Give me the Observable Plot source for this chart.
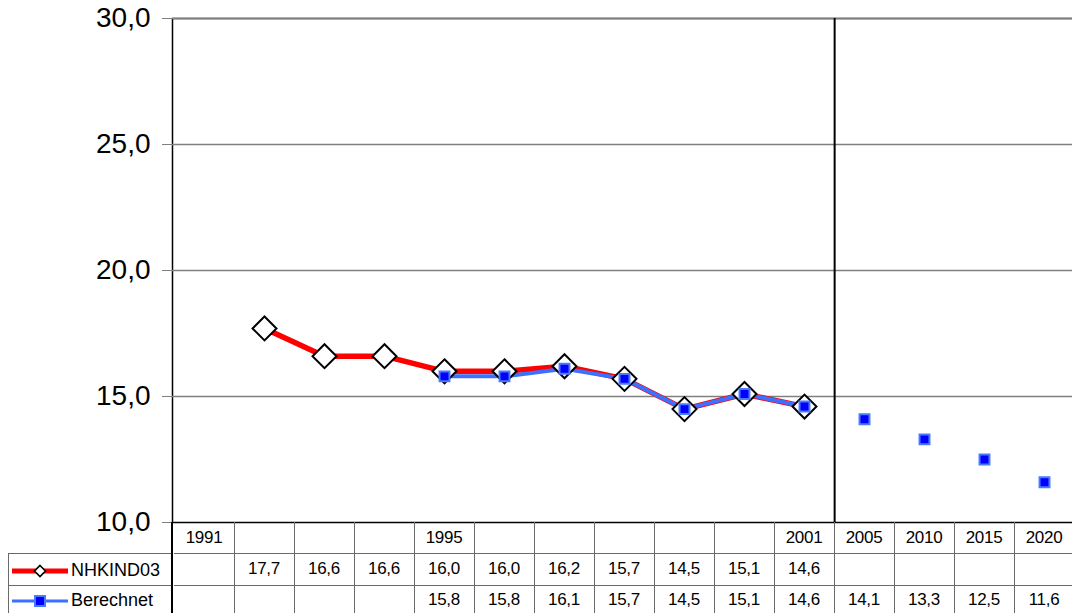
<!DOCTYPE html>
<html><head><meta charset="utf-8">
<script src="https://cdn.jsdelivr.net/npm/d3@7"></script>
<script src="https://cdn.jsdelivr.net/npm/@observablehq/plot@0.6"></script>
<style>
html,body{margin:0;padding:0;background:#fff;overflow:hidden;}
#wrap{position:relative;width:1072px;height:613px;font-family:"Liberation Sans",Arial,sans-serif;overflow:hidden;}
#wrap > svg{position:absolute;left:0;top:0;}
.cell{position:absolute;box-sizing:border-box;display:flex;align-items:center;justify-content:center;font-size:17px;color:#000;letter-spacing:-0.3px;}
.vline{position:absolute;}
.leg{position:absolute;font-size:18px;color:#000;}
</style></head><body><div id="wrap"></div>
<script>
// ---- data ----
const years = ["1991","1992","1993","1994","1995","1996","1997","1998","1999","2000","2001","2005","2010","2015","2020"];
const yearLabels = ["1991","","","","1995","","","","","","2001","2005","2010","2015","2020"];
const nhkindYears = ["1992","1993","1994","1995","1996","1997","1998","1999","2000","2001"];
const nhkindValues = [17.7,16.6,16.6,16.0,16.0,16.2,15.7,14.5,15.1,14.6];
const berechnetYears = ["1995","1996","1997","1998","1999","2000","2001","2005","2010","2015","2020"];
const berechnetValues = [15.8,15.8,16.1,15.7,14.5,15.1,14.6,14.1,13.3,12.5,11.6];
const lastObservedYear = "2001";
const yTicks = [10,15,20,25,30];
const gridTicks = [15,20,25,30];
const seriesNames = ["NHKIND03","Berechnet"];

// ---- tables built from arrays ----
const nhk = nhkindYears.map((y,i)=>({year:y, value:nhkindValues[i]}));
const ber = berechnetYears.map((y,i)=>({year:y, value:berechnetValues[i]}));
const berLine = ber.slice(0, berechnetYears.indexOf(lastObservedYear)+1);
const fmt = v => v.toFixed(1).replace(".", ",");

const W=1072, H=523, ML=172, MR=-4, MT=18, MB=1;
const bw = (W-ML-MR)/years.length;

const chart = Plot.plot({
  width:W, height:H, marginLeft:ML, marginRight:MR, marginTop:MT, marginBottom:MB,
  style:{fontFamily:'"Liberation Sans",Arial,sans-serif', background:"transparent", overflow:"visible"},
  x:{type:"band", domain:years, padding:0, axis:null, label:null},
  y:{domain:[10,30], axis:null, label:null},
  marks:[
    Plot.frame({stroke:"#000", strokeWidth:1.5}),
    Plot.gridY(gridTicks, {stroke:"#808080", strokeOpacity:1, strokeWidth:1.5}),
    Plot.ruleX([lastObservedYear], {dx:bw/2, stroke:"#000", strokeWidth:2}),
    Plot.axisY(yTicks, {anchor:"left", label:null, tickSize:10, tickPadding:12, fontSize:28, tickFormat:fmt, stroke:"#808080", fill:"#000"}),
    Plot.line(nhk, {x:"year", y:"value", stroke:"#ff0000", strokeWidth:5.5}),
    Plot.line(berLine, {x:"year", y:"value", stroke:"#3f6fff", strokeWidth:4}),
    Plot.dot(nhk, {x:"year", y:"value", symbol:"diamond2", r:10.8, fill:"#fff", stroke:"#000", strokeWidth:2}),
    Plot.dot(ber, {x:"year", y:"value", symbol:"square", r:5.6, fill:"#0000ff", stroke:"#4a7bff", strokeWidth:2})
  ]
});
const wrap = document.getElementById("wrap");
wrap.appendChild(chart);

// ---- data table under the chart ----
const xs = chart.scale("x");
const rows = [
  {top:522, h:31, labels:yearLabels},
  {top:553, h:32, labels:years.map(y=>{const i=nhkindYears.indexOf(y); return i<0?"":fmt(nhkindValues[i]);})},
  {top:585, h:30, labels:years.map(y=>{const i=berechnetYears.indexOf(y); return i<0?"":fmt(berechnetValues[i]);})}
];
const lineCol = "#6a6a6a";
rows.forEach((r,ri)=>{
  years.forEach((y,i)=>{
    const d=document.createElement("div");
    d.className="cell";
    d.style.left=xs.apply(y)+"px";
    d.style.top=r.top+"px";
    d.style.width=(xs.bandwidth+1)+"px";
    d.style.height=(r.h+1)+"px";
    d.style.borderRight="1px solid "+lineCol;
    d.style.borderBottom="1px solid "+lineCol;
    d.textContent=r.labels[i];
    wrap.appendChild(d);
  });
  if(ri>0){
    const d=document.createElement("div");
    d.className="cell";
    d.style.left="8px"; d.style.top=r.top+"px";
    d.style.width=(ML-8+1)+"px"; d.style.height=(r.h+1)+"px";
    d.style.border="1px solid "+lineCol;
    d.style.borderTop= ri===1 ? "1px solid "+lineCol : "none";
    wrap.appendChild(d);
  }
});
// axis line continuing through the table
const axl=document.createElement("div");
axl.className="vline";
axl.style.cssText="left:171px;top:522px;width:2px;height:92px;background:#000;";
wrap.appendChild(axl);

// legend keys in the table
function legendKey(top, name, kind){
  const ns="http://www.w3.org/2000/svg";
  const s=document.createElementNS(ns,"svg");
  s.setAttribute("width","60"); s.setAttribute("height","20");
  s.style.cssText="position:absolute;left:10px;top:"+(top-10)+"px;";
  const l=document.createElementNS(ns,"line");
  l.setAttribute("x1","2"); l.setAttribute("x2","58"); l.setAttribute("y1","10"); l.setAttribute("y2","10");
  if(kind==="red"){
    l.setAttribute("stroke","#ff0000"); l.setAttribute("stroke-width","5");
    s.appendChild(l);
    const p=document.createElementNS(ns,"path");
    p.setAttribute("d","M30,4.5L35.5,10L30,15.5L24.5,10Z");
    p.setAttribute("fill","#fff"); p.setAttribute("stroke","#000"); p.setAttribute("stroke-width","1.6");
    s.appendChild(p);
  } else {
    l.setAttribute("stroke","#3f6fff"); l.setAttribute("stroke-width","3");
    s.appendChild(l);
    const q=document.createElementNS(ns,"rect");
    q.setAttribute("x","25"); q.setAttribute("y","5"); q.setAttribute("width","10"); q.setAttribute("height","10");
    q.setAttribute("fill","#0000ff"); q.setAttribute("stroke","#4a7bff"); q.setAttribute("stroke-width","2");
    s.appendChild(q);
  }
  wrap.appendChild(s);
  const t=document.createElement("div");
  t.className="leg";
  t.style.left="71px"; t.style.top=(top-11)+"px";
  t.textContent=name;
  wrap.appendChild(t);
}
legendKey(571, seriesNames[0], "red");
legendKey(601, seriesNames[1], "blue");
</script></body></html>
